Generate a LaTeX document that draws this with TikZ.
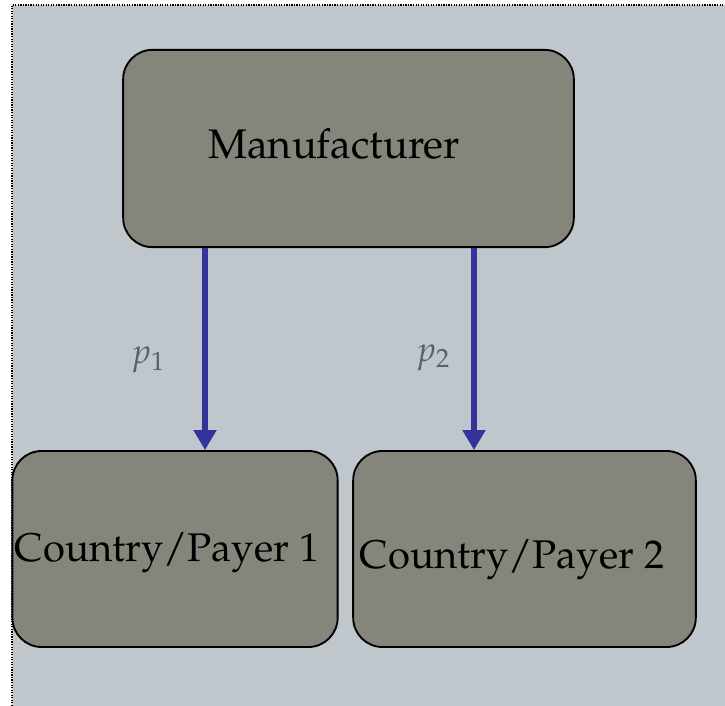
\documentclass[tikz,border=0pt]{standalone}
\usepackage[T1]{fontenc}
\usepackage{amsmath}
\usepackage{mathpazo}
\usepackage{tikz}
\usetikzlibrary{arrows.meta,positioning}
\definecolor{slidebg}{RGB}{191,199,205}
\definecolor{boxgrey}{RGB}{133,133,123}
\definecolor{flowblue}{RGB}{51,51,153}
\definecolor{labgrey}{RGB}{88,98,102}

\begin{document}
\begin{tikzpicture}[x=0.75pt, y=-0.75pt,
    party/.style={draw=black, fill=boxgrey, rounded corners=22pt, line width=1.4pt,
                  inner sep=0pt},
    partytext/.style={font=\fontsize{30}{34}\selectfont},
    flow/.style={flowblue, line width=4.5pt, -{Triangle[length=15pt,width=16.5pt]}},
    price/.style={labgrey, font=\fontsize{26}{30}\selectfont}]
  \useasboundingbox (0,0) rectangle (725,706);
  % Background
  \fill[slidebg] (12,5) rectangle (725,706);
  \draw[densely dotted, line width=0.9pt] (12,706) -- (12,5) -- (725,5);
  % Manufacturer
  \node[party, minimum width=338pt, minimum height=148pt] (manuf) at (348.5,148.5) {};
  \node[partytext, font=\fontsize{31}{35}\selectfont] (manuflab) at (334,144) {Manufacturer};
  % Payers
  \node[party, minimum width=244pt, minimum height=147pt] (payer1) at (175,549) {};
  \node[partytext] (payer1lab) at (167,553) {Country/Payer 1};
  \node[party, minimum width=257pt, minimum height=147pt] (payer2) at (524.5,549) {};
  \node[partytext] (payer2lab) at (512,560) {Country/Payer 2};
  % Prices
  \draw[flow] ([shift={(-143.5,0)}]manuf.south) -- ([shift={(-143.5,0)}]manuf.south |- payer1.north);
  \draw[flow] ([shift={(125.5,0)}]manuf.south) -- ([shift={(125.5,0)}]manuf.south |- payer2.north);
  \node[price] (p1) at (148,360) {$p_1$};
  \node[price] (p2) at (433,358) {$p_2$};
\end{tikzpicture}
\end{document}
